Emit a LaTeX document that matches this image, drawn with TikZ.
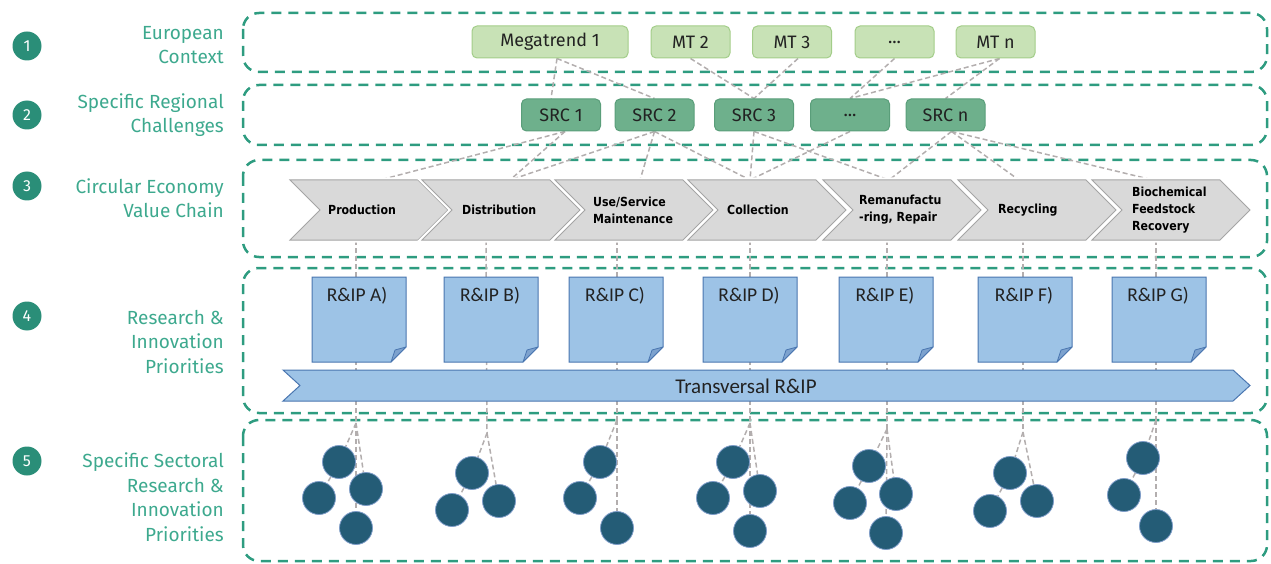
\documentclass[tikz,border=0pt]{standalone}
\usepackage{fontspec}
\setmainfont{Fira Sans}
\newfontfamily\calfont{Carlito}
\newfontfamily\chevfont{DejaVu Sans}[FakeStretch=0.88]
\usetikzlibrary{calc}
\pgfdeclarelayer{bg}
\pgfsetlayers{bg,main}
\definecolor{boxteal}{HTML}{2E9C80}
\definecolor{numteal}{HTML}{2A8E78}
\definecolor{labteal}{HTML}{3DA98E}
\definecolor{mtfill}{HTML}{C8E2B6}
\definecolor{mtedge}{HTML}{A3CD89}
\definecolor{srcfill}{HTML}{6EB08C}
\definecolor{srcedge}{HTML}{5A9E7A}
\definecolor{txtdark}{HTML}{222222}
\definecolor{linkgray}{HTML}{B3AEAE}
\definecolor{chevfill}{HTML}{D9D9D9}
\definecolor{chevedge}{HTML}{A5A5A5}
\definecolor{docfill}{HTML}{9DC3E6}
\definecolor{docedge}{HTML}{4A76B0}
\definecolor{foldfill}{HTML}{7DA2CE}
\definecolor{dotfill}{HTML}{245C76}
\definecolor{dotedge}{HTML}{7E9CC8}
\newcommand{\chevshape}[1]{%
  \draw[chev] (#1,180) -- ++(128,0) -- ++(30,30) -- ++(-30,30) -- ++(-128,0) -- ++(30,-30) -- cycle;}
\newcommand{\docshape}[1]{%
  \draw[docst] (#1-47,277) -- (#1+47,277) -- (#1+47,347) -- (#1+32,362) -- (#1-47,362) -- cycle;
  \draw[foldst] (#1+47,347) -- (#1+36,350) -- (#1+32,362) -- cycle;}
\begin{document}
\begin{tikzpicture}[x=1pt,y=-1pt,
 secbox/.style={draw=boxteal,line width=2.5pt,dash pattern=on 10pt off 7pt,rounded corners=16pt},
 numc/.style={circle,fill=numteal,text=white,minimum size=29pt,inner sep=0pt,font=\fontsize{16}{16}\selectfont},
 lab/.style={text=labteal,align=right,anchor=east,inner sep=0pt,font=\fontsize{19}{24.5}\selectfont},
 mtbox/.style={draw=mtedge,fill=mtfill,line width=1pt,rounded corners=5pt,minimum height=32pt,minimum width=79pt,inner sep=0pt,text=txtdark,font=\fontsize{18}{18}\selectfont},
 srcbox/.style={mtbox,draw=srcedge,fill=srcfill},
 link/.style={draw=linkgray,line width=1.5pt,dash pattern=on 5pt off 3pt},
 chev/.style={fill=chevfill,draw=chevedge,line width=1pt,line join=miter,preaction={draw=white,line width=5pt}},
 chevtxt/.style={anchor=west,align=left,inner sep=0pt,text=black,font=\chevfont\bfseries\fontsize{12.5}{17}\selectfont},
 docst/.style={fill=docfill,draw=docedge,line width=1pt},
 foldst/.style={fill=foldfill,draw=docedge,line width=0.8pt,line join=round},
 doctxt/.style={inner sep=0pt,text=txtdark,font=\calfont\fontsize{19.5}{19.5}\selectfont},
 dot/.style={circle,minimum size=33pt,inner sep=0pt,fill=dotfill,draw=dotedge,line width=0.8pt}
]
\useasboundingbox (0,0) rectangle (1271,564);

% numbers and labels
\node[numc] (n1) at (27,46) {1};
\node[numc] (n2) at (27,115) {2};
\node[numc] (n3) at (27,186) {3};
\node[numc] (n4) at (27,316) {4};
\node[numc] (n5) at (27,461) {5};
\node[lab] (l1) at (224,45) {European\\Context};
\node[lab] (l2) at (224,115) {Specific Regional\\Challenges};
\node[lab] (l3) at (224,198) {Circular Economy\\Value Chain};
\node[lab] (l4) at (224,342) {Research \&\\Innovation\\Priorities};
\node[lab] (l5) at (224,497) {Specific Sectoral\\Research \&\\Innovation\\Priorities};

% megatrends
\node[mtbox,minimum width=156pt] (m1) at (550,42) {Megatrend 1};
\node[mtbox] (m2) at (690.5,42) {MT 2};
\node[mtbox] (m3) at (792,42) {MT 3};
\node[mtbox] (m4) at (894.5,42) {...};
\node[mtbox] (m5) at (995.5,42) {MT n};

% regional challenges
\node[srcbox] (s1) at (561,115) {SRC 1};
\node[srcbox] (s2) at (654.5,115) {SRC 2};
\node[srcbox] (s3) at (754,115) {SRC 3};
\node[srcbox] (s4) at (850,115) {...};
\node[srcbox] (s5) at (945.5,115) {SRC n};

% value chain
\chevshape{290}
\chevshape{422}
\chevshape{555}
\chevshape{688}
\chevshape{823}
\chevshape{958}
\chevshape{1092}
\node[chevtxt] (chP) at (328,210) {Production};
\node[chevtxt] (chD) at (462,210) {Distribution};
\node[chevtxt] (chU) at (593,210) {Use/Service\\Maintenance};
\node[chevtxt] (chC) at (727,210) {Collection};
\node[chevtxt] (chR) at (859,210) {Remanufactu\\-ring, Repair};
\node[chevtxt] (chY) at (998,210) {Recycling};
\node[chevtxt] (chB) at (1132,210) {Biochemical\\Feedstock\\Recovery};
\coordinate (tP) at (380,180);
\coordinate (tD) at (510,180);
\coordinate (tU) at (640,180);
\coordinate (tC) at (750,180);
\coordinate (tR) at (889,180);
\coordinate (tY) at (1019,180);
\coordinate (tB) at (1153,180);
\coordinate (bP) at (356,240);
\coordinate (bD) at (486,240);
\coordinate (bU) at (617,240);
\coordinate (bC) at (750,240);
\coordinate (bR) at (887,240);
\coordinate (bY) at (1023,240);
\coordinate (bB) at (1156,240);

% R&IP documents
\docshape{359}
\docshape{491}
\docshape{616}
\docshape{750}
\docshape{886}
\docshape{1025}
\docshape{1159}
\node[doctxt] (rA) at (357,296) {R\&IP A)};
\node[doctxt] (rB) at (490,296) {R\&IP B)};
\node[doctxt] (rC) at (615,296) {R\&IP C)};
\node[doctxt] (rD) at (749,296) {R\&IP D)};
\node[doctxt] (rE) at (885,296) {R\&IP E)};
\node[doctxt] (rF) at (1024,296) {R\&IP F)};
\node[doctxt] (rG) at (1158,296) {R\&IP G)};

% transversal bar
\draw[docst] (283,370) -- (1233,370) -- (1250,385.5) -- (1233,401) -- (283,401) -- (300,385.5) -- cycle;
\node[doctxt,font=\calfont\fontsize{21}{21}\selectfont] (tr) at (746,386) {Transversal R\&IP};

% apex coordinates
\coordinate (apA) at (356,423);
\coordinate (apB) at (487,433);
\coordinate (apC) at (617,420);
\coordinate (apD) at (750,423);
\coordinate (apE) at (887,429);
\coordinate (apF) at (1023,432);
\coordinate (apG) at (1156,420);

% sector dots
\node[dot] (a1) at (339,462) {};
\node[dot] (a2) at (319,498) {};
\node[dot] (a3) at (366,489) {};
\node[dot] (a4) at (356,528) {};
\node[dot] (b1) at (472,473) {};
\node[dot] (b2) at (452,510) {};
\node[dot] (b3) at (499,501) {};
\node[dot] (c1) at (600,462) {};
\node[dot] (c2) at (580,498) {};
\node[dot] (c3) at (617,528) {};
\node[dot] (d1) at (733,462) {};
\node[dot] (d2) at (713,498) {};
\node[dot] (d3) at (760,491) {};
\node[dot] (d4) at (750,531) {};
\node[dot] (e1) at (869,466) {};
\node[dot] (e2) at (850,503) {};
\node[dot] (e3) at (896,494) {};
\node[dot] (e4) at (886,533) {};
\node[dot] (f1) at (1010,473) {};
\node[dot] (f2) at (990,511) {};
\node[dot] (f3) at (1037,501) {};
\node[dot] (g1) at (1143,458) {};
\node[dot] (g2) at (1124,495) {};
\node[dot] (g3) at (1156,526) {};

\begin{pgfonlayer}{bg}
\draw[secbox] (243,13) rectangle (1267,72);
\draw[secbox] (243,85) rectangle (1267,145);
\draw[secbox] (243,160) rectangle (1267,257);
\draw[secbox] (243,268) rectangle (1267,413);
\draw[secbox] (243,420) rectangle (1267,561);
% MT -> SRC
\draw[link] ([xshift=7pt]m1.south) -- ([xshift=-10pt]s1.north);
\draw[link] ([xshift=7pt]m1.south) -- (s2.north);
\draw[link] (m2.south) -- (s3.north);
\draw[link] ([xshift=6pt]m3.south) -- (s3.north);
\draw[link] (m4.south) -- (s4.north);
\draw[link] ([xshift=4pt]m5.south) -- (s4.north);
\draw[link] ([xshift=4pt]m5.south) -- (s5.north);
% SRC -> value chain
\draw[link] ([xshift=4pt]s1.south) -- (tP);
\draw[link] ([xshift=4pt]s1.south) -- (tD);
\draw[link] (s2.south) -- (tD);
\draw[link] (s2.south) -- (tU);
\draw[link] (s2.south) -- (tC);
\draw[link] (s3.south) -- (tC);
\draw[link] (s3.south) -- (tR);
\draw[link] (s4.south) -- (tC);
\draw[link] ([xshift=6pt]s5.south) -- (tR);
\draw[link] ([xshift=6pt]s5.south) -- (tY);
\draw[link] ([xshift=6pt]s5.south) -- (tB);
% value chain -> sector clusters
\draw[link] (bP) -- (apA);
\draw[link] (bD) -- (apB);
\draw[link] (bU) -- (apC);
\draw[link] (bC) -- (apD);
\draw[link] (bR) -- (apE);
\draw[link] (bY) -- (apF);
\draw[link] (bB) -- (apG);
% clusters
\draw[link] (apA) -- (a1); \draw[link] (apA) -- (a3); \draw[link] (apA) -- (a4); \draw[link] (a1) -- (a2);
\draw[link] (apB) -- (b1); \draw[link] (apB) -- (b3); \draw[link] (b1) -- (b2);
\draw[link] (apC) -- (c1); \draw[link] (apC) -- (c3); \draw[link] (c1) -- (c2);
\draw[link] (apD) -- (d1); \draw[link] (apD) -- (d3); \draw[link] (apD) -- (d4); \draw[link] (d1) -- (d2);
\draw[link] (apE) -- (e1); \draw[link] (apE) -- (e3); \draw[link] (apE) -- (e4); \draw[link] (e1) -- (e2);
\draw[link] (apF) -- (f1); \draw[link] (apF) -- (f3); \draw[link] (f1) -- (f2);
\draw[link] (apG) -- (g1); \draw[link] (apG) -- (g3); \draw[link] (g1) -- (g2);
\end{pgfonlayer}
\end{tikzpicture}
\end{document}
